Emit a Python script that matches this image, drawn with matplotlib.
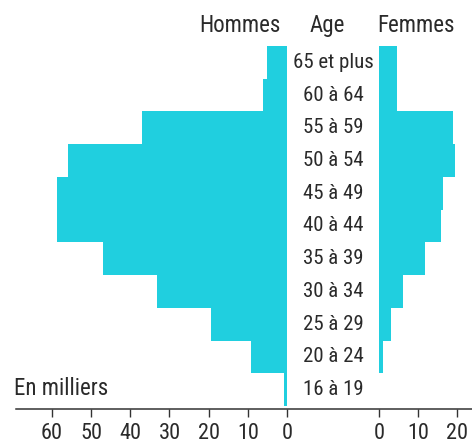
import matplotlib
matplotlib.use("Agg")
import matplotlib.pyplot as plt
from matplotlib import font_manager
from matplotlib.lines import Line2D

# ---- data (milliers) ----
ages = ["16 à 19", "20 à 24", "25 à 29", "30 à 34", "35 à 39", "40 à 44",
        "45 à 49", "50 à 54", "55 à 59", "60 à 64", "65 et plus"]
hommes = [0.8, 9.1, 19.4, 33.2, 47.1, 58.6, 58.6, 56.0, 37.1, 6.0, 5.0]
femmes = [0.0, 1.0, 3.0, 6.2, 11.8, 15.9, 16.4, 19.5, 19.0, 4.6, 4.6]
ticks_h = [60, 50, 40, 30, 20, 10, 0]
ticks_f = [0, 10, 20]

# ---- font: prefer a condensed family ----
names = {f.name for f in font_manager.fontManager.ttflist}
family = "Liberation Sans"
for cand in ["Liberation Sans Narrow", "DejaVu Sans Condensed", "Roboto Condensed",
             "Open Sans Condensed", "Noto Sans Condensed", "Liberation Sans"]:
    if cand in names:
        family = cand
        break
plt.rcParams["font.family"] = [family, "DejaVu Sans"]

W, H = 472, 446
BAR = "#20cfdf"
TXT = "#2a2a2a"
scale = 3.917  # px per millier

fig = plt.figure(figsize=(W / 100, H / 100), dpi=100)

y_bot = 1 - 409 / H
y_top = 1 - 46 / H
ax_h = y_top - y_bot

axL = fig.add_axes([16 / W, y_bot, (287 - 16) / W, ax_h])
axR = fig.add_axes([379 / W, y_bot, (W - 379) / W, ax_h])

pos = list(range(len(ages)))
axL.barh(pos, hommes, height=1.0, color=BAR, linewidth=0)
axR.barh(pos, femmes, height=1.0, color=BAR, linewidth=0)

gap = 3 / 32.7
axL.set_xlim((287 - 16) / scale, 0)
axR.set_xlim(0, (W - 379) / scale)
for ax in (axL, axR):
    ax.set_ylim(-0.5 - gap, len(ages) - 0.5)
    for s in ax.spines.values():
        s.set_visible(False)
    ax.set_yticks([])
    ax.tick_params(axis="x", direction="out", length=6, width=1.0,
                   colors="#333333", labelcolor=TXT, labelsize=16, pad=4)
    ax.patch.set_alpha(0)

axL.set_xticks(ticks_h)
axL.set_xticklabels([str(t) for t in ticks_h])
axR.set_xticks(ticks_f)
axR.set_xticklabels([str(t) for t in ticks_f])

# baseline across whole width
fig.add_artist(Line2D([16 / W, 1.0], [y_bot, y_bot], transform=fig.transFigure,
                      color="#333333", linewidth=1.1))

# age labels centered between the halves
xc = 333 / W
for i, lab in enumerate(ages):
    yc = y_bot + (i + 0.5 + gap) / (len(ages) + gap) * ax_h
    fig.text(xc, yc, lab, ha="center", va="center", fontsize=15, color=TXT)

# headers
fig.text(240 / W, 1 - 32 / H, "Hommes", ha="center", va="baseline", fontsize=16.5, color=TXT)
fig.text(327 / W, 1 - 32 / H, "Age", ha="center", va="baseline", fontsize=16.5, color=TXT)
fig.text(416 / W, 1 - 32 / H, "Femmes", ha="center", va="baseline", fontsize=16.5, color=TXT)
fig.text(14 / W, 1 - 395 / H, "En milliers", ha="left", va="baseline", fontsize=16.5, color=TXT)

fig.savefig("out.png", dpi=100)
